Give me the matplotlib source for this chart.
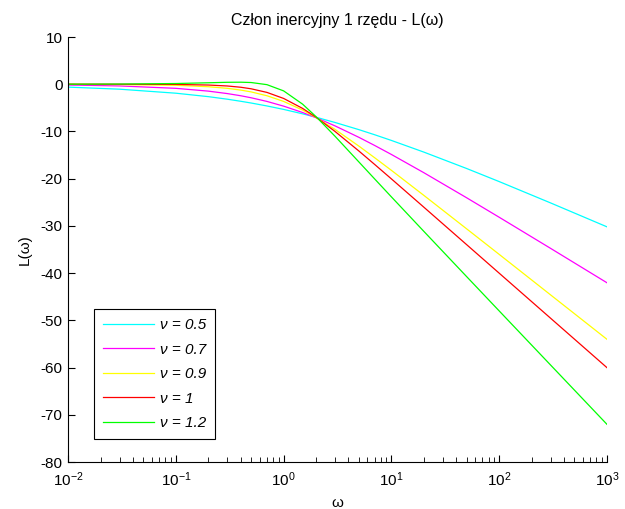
import matplotlib
matplotlib.use('Agg')
import matplotlib.pyplot as plt
import numpy as np

plt.rcParams['font.family'] = ['Liberation Sans', 'DejaVu Sans']
plt.rcParams['font.size'] = 11
plt.rcParams['axes.unicode_minus'] = False
plt.rcParams['mathtext.fontset'] = 'custom'
plt.rcParams['mathtext.rm'] = 'Liberation Sans'
plt.rcParams['mathtext.it'] = 'Liberation Sans:italic'
plt.rcParams['mathtext.default'] = 'regular'

# omega values (log scale) and L(omega) for each nu
omega = [0.01, 0.03, 0.1, 0.2, 0.3, 0.4, 0.5, 0.7, 1, 1.5, 2, 3, 5, 7,
         10, 20, 50, 100, 300, 1000]
L_05 = [-0.61, -1.05, -1.90, -2.63, -3.17, -3.61, -3.98, -4.60, -5.33, -6.27,
        -6.99, -8.10, -9.62, -10.70, -11.90, -14.37, -17.85, -20.61, -25.13, -30.19]
L_07 = [-0.16, -0.36, -0.87, -1.46, -1.98, -2.44, -2.87, -3.64, -4.64, -5.99,
        -7.09, -8.82, -11.25, -12.97, -14.87, -18.73, -24.05, -28.16, -34.75, -42.03]
L_09 = [-0.02, -0.07, -0.23, -0.53, -0.87, -1.24, -1.63, -2.44, -3.64, -5.47,
        -7.05, -9.57, -13.11, -15.57, -18.23, -23.53, -30.63, -36.02, -44.60, -54.00]
L_10 = [0.00, 0.00, -0.04, -0.17, -0.37, -0.64, -0.97, -1.73, -3.01, -5.12,
        -6.99, -10.00, -14.15, -16.99, -20.04, -26.03, -33.98, -40.00, -49.54, -60.00]
L_12 = [0.01, 0.04, 0.15, 0.31, 0.41, 0.43, 0.36, -0.09, -1.41, -4.22,
        -6.87, -11.02, -16.47, -20.06, -23.85, -31.15, -40.75, -47.99, -59.45, -72.00]

series = [L_05, L_07, L_09, L_10, L_12]
labels = ['ν = 0.5', 'ν = 0.7', 'ν = 0.9', 'ν = 1', 'ν = 1.2']
colors = ['#00ffff', '#ff00ff', '#ffff00', '#ff0000', '#00ff00']
xtick_vals = [1e-2, 1e-1, 1e0, 1e1, 1e2, 1e3]
xtick_labels = ['$10^{-2}$', '$10^{-1}$', '$10^{0}$', '$10^{1}$', '$10^{2}$', '$10^{3}$']

fig = plt.figure(figsize=(6.25, 5.09), dpi=100)
ax = fig.add_axes([0.109, 0.0923, 0.862, 0.835])

for y, lab, c in zip(series, labels, colors):
    ax.semilogx(omega, y, color=c, linewidth=0.9, label=lab)

ax.set_xlim(1e-2, 1e3)
ax.set_ylim(-80, 10)
ax.set_yticks(np.arange(-80, 11, 10))
ax.set_xticks(xtick_vals)
ax.set_xticklabels(xtick_labels)

ax.spines['top'].set_visible(False)
ax.spines['right'].set_visible(False)
ax.tick_params(which='both', direction='in', colors='black', labelsize=11)
ax.tick_params(which='major', length=5)
ax.tick_params(which='minor', length=3.5)
ax.tick_params(axis='x', pad=6)
ax.tick_params(axis='y', pad=4)

ax.set_title('Człon inercyjny 1 rzędu - L(ω)', fontsize=11.5, pad=9)
ax.set_xlabel('ω', fontsize=11, labelpad=5)
ax.set_ylabel('L(ω)', fontsize=11, labelpad=6)

leg = ax.legend(loc='lower left', bbox_to_anchor=(0.048, 0.054), borderaxespad=0,
                fancybox=False, edgecolor='black', framealpha=1,
                prop={'style': 'italic', 'size': 11}, handlelength=3.3,
                handletextpad=0.4, labelspacing=0.68, borderpad=0.6)
leg.get_frame().set_linewidth(0.8)

fig.savefig('out.png', dpi=100)
